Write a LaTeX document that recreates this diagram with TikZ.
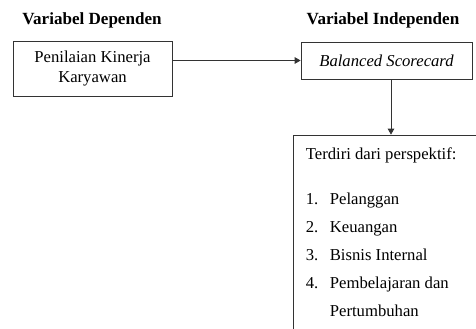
\documentclass[tikz,border=0pt]{standalone}
\usepackage{fontspec}
\setmainfont{Liberation Serif}
\usepackage{xcolor}
\definecolor{boxbd}{HTML}{333333}
\usetikzlibrary{arrows.meta, positioning, calc}

\begin{document}
\begin{tikzpicture}[
        x=0.75pt, y=-0.75pt,
        title_node/.style={anchor=base, font=\fontsize{12.8}{14}\selectfont\bfseries},
        var_node/.style={rectangle, draw=boxbd, line width=0.6pt, align=center, inner sep=0pt, font=\fontsize{12.5}{15}\selectfont},
        list_node/.style={anchor=north west, align=left, inner sep=0pt, font=\fontsize{12.5}{21}\selectfont},
        arrow/.style={-{Triangle[length=4.5pt, width=5pt]}, draw=boxbd, line width=0.6pt}
    ]
    \clip (0,0) rectangle (476,329);

    % Headings
    \node[title_node] (dep) at (92,24) {Variabel Dependen};
    \node[title_node] (indep) at (383,24) {Variabel Independen};

    % Variables
    \node[var_node, minimum width=119.25pt, minimum height=41.25pt] (kinerja) at (92.5,68.5) {Penilaian Kinerja\\Karyawan};
    \node[var_node, minimum width=128.25pt, minimum height=27.75pt] (bsc) at (386.5,60.5) {\itshape Balanced Scorecard};

    % Perspectives (box runs past the page edge)
    \node[var_node, minimum width=147pt, minimum height=157.5pt] (persp) at (391,240) {};
    \node[list_node] (items) at ([shift={(13,13)}]persp.north west) {Terdiri dari perspektif:\\[12.75pt]
        \makebox[18pt][l]{1.}Pelanggan\\
        \makebox[18pt][l]{2.}Keuangan\\
        \makebox[18pt][l]{3.}Bisnis Internal\\
        \makebox[18pt][l]{4.}Pembelajaran dan\\
        \hspace*{18pt}Pertumbuhan};

    % Connections
    \draw[arrow] (kinerja.east |- bsc.west) -- (bsc.west);
    \draw[arrow] (bsc.south -| persp.north) -- (persp.north);

\end{tikzpicture}
\end{document}
